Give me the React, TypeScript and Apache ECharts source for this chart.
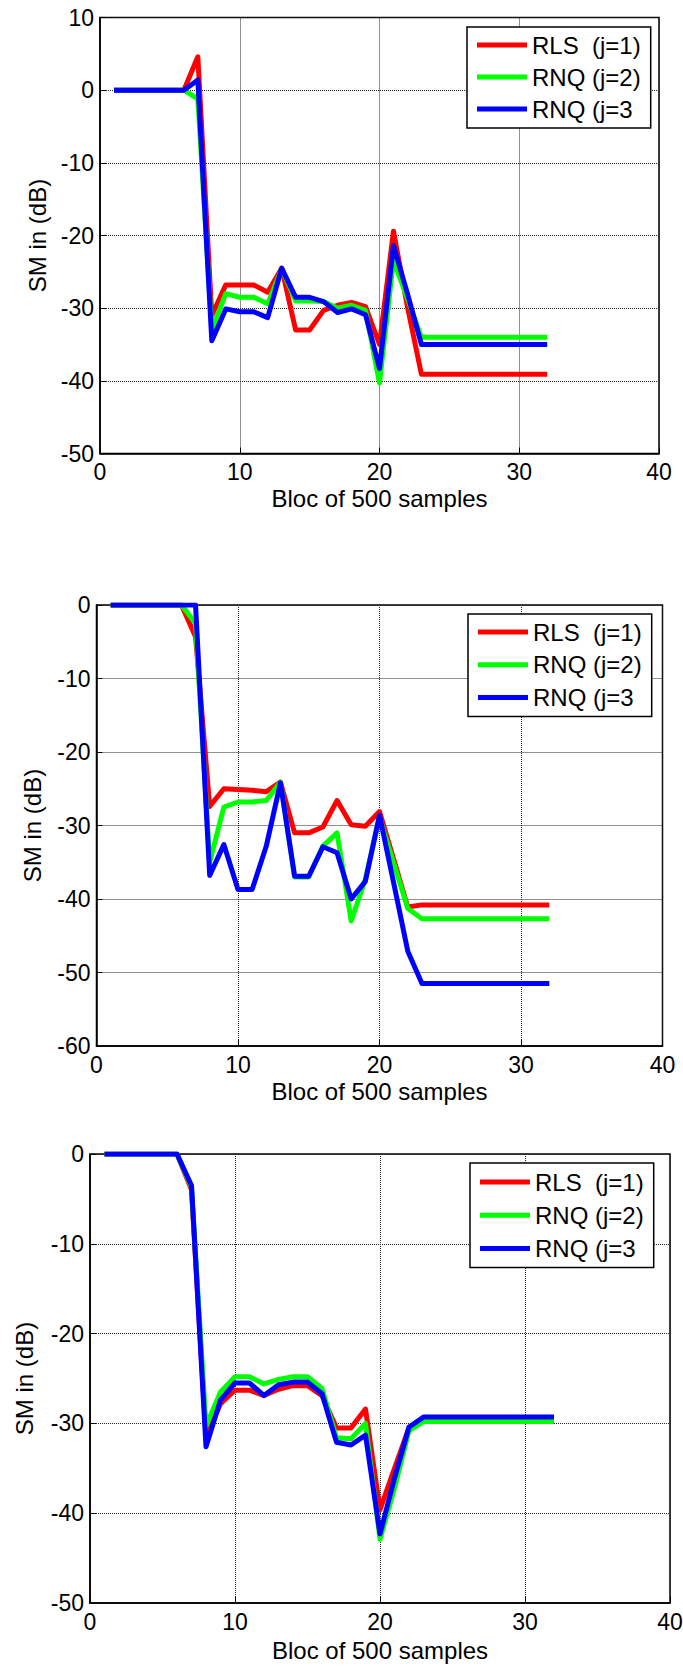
import React, { useEffect, useRef } from "react";
import * as echarts from "echarts";

const XS = [1, 2, 3, 4, 5, 6, 7, 8, 9, 10, 11, 12, 13, 14, 15, 16, 17, 18, 19, 20, 21, 22, 23, 24, 25, 26, 27, 28, 29, 30, 31, 32];
const SERIES_NAMES = ["RLS  (j=1)", "RNQ (j=2)", "RNQ (j=3"];
const X_TICKS = [0, 10, 20, 30, 40];

// Chart 1
const RED_1 = [0, 0, 0, 0, 0, 0, 4.6, -31, -26.8, -26.8, -26.8, -27.8, -24.5, -33, -33, -30.3, -29.6, -29.2, -29.8, -35, -19.4, -29.8, -39.1, -39.1, -39.1, -39.1, -39.1, -39.1, -39.1, -39.1, -39.1, -39.1];
const GREEN_1 = [0, 0, 0, 0, 0, 0, -1.2, -33, -28, -28.5, -28.5, -29.4, -24.6, -29, -29, -29.1, -30, -29.6, -30.3, -40.3, -23.4, -28.7, -34, -34, -34, -34, -34, -34, -34, -34, -34, -34];
const BLUE_1 = [0, 0, 0, 0, 0, 0, 1.4, -34.5, -30.1, -30.5, -30.5, -31.3, -24.5, -28.5, -28.5, -29.1, -30.6, -30.1, -30.9, -38.3, -21.4, -28, -35, -35, -35, -35, -35, -35, -35, -35, -35, -35];

// Chart 2
const RED_2 = [0, 0, 0, 0, 0, 0, -4.3, -27.4, -25, -25.1, -25.2, -25.4, -24.1, -31, -31, -30.2, -26.6, -29.9, -30.1, -28.1, -34.6, -41.1, -40.8, -40.8, -40.8, -40.8, -40.8, -40.8, -40.8, -40.8, -40.8, -40.8];
const GREEN_2 = [0, 0, 0, 0, 0, 0, -2.5, -35, -27.5, -26.8, -26.8, -26.6, -24.1, -37, -37, -32.8, -31, -43, -37.3, -28.9, -35.1, -41.3, -42.7, -42.7, -42.7, -42.7, -42.7, -42.7, -42.7, -42.7, -42.7, -42.7];
const BLUE_2 = [0, 0, 0, 0, 0, 0, 0, -36.8, -32.6, -38.7, -38.7, -32.8, -24.2, -36.9, -36.9, -32.9, -33.7, -40, -37.6, -28.6, -37.8, -47.1, -51.5, -51.5, -51.5, -51.5, -51.5, -51.5, -51.5, -51.5, -51.5, -51.5];

// Chart 3
const RED_3 = [0, 0, 0, 0, 0, 0, -4, -31.5, -27.8, -26.3, -26.3, -26.9, -26.2, -25.8, -25.8, -26.9, -30.5, -30.5, -28.4, -39.6, -35, -30.5, -29.6, -29.6, -29.6, -29.6, -29.6, -29.6, -29.6, -29.6, -29.6, -29.6];
const GREEN_3 = [0, 0, 0, 0, 0, 0, -3.7, -30.3, -26.5, -24.8, -24.8, -25.6, -25.1, -24.8, -24.8, -26.1, -31.6, -31.7, -30, -42.9, -37.2, -30.8, -29.8, -29.8, -29.8, -29.8, -29.8, -29.8, -29.8, -29.8, -29.8, -29.8];
const BLUE_3 = [0, 0, 0, 0, 0, 0, -3.5, -32.6, -27.4, -25.5, -25.5, -26.9, -25.7, -25.4, -25.4, -26.7, -32.1, -32.4, -31.3, -42.3, -36.1, -30.4, -29.3, -29.3, -29.3, -29.3, -29.3, -29.3, -29.3, -29.3, -29.3, -29.3];

const Y_RANGES = [
  [-50, 10],
  [-60, 0],
  [-50, 0],
];

const FONT = "'Liberation Sans', Arial, Helvetica, sans-serif";
const COLORS = ["#ff0000", "#00ff00", "#0000ff"];

const PANELS = [
  { grid: { left: 100, top: 17.5, width: 559, height: 436 }, legend: { left: 467, top: 27, gap: 6, padTop: 5 }, xGap: 33, yGap: 51, data: [RED_1, GREEN_1, BLUE_1] },
  { grid: { left: 96.5, top: 605, width: 566, height: 441 }, legend: { left: 468, top: 614, gap: 6.7, padTop: 5 }, xGap: 33, yGap: 52, data: [RED_2, GREEN_2, BLUE_2] },
  { grid: { left: 90, top: 1154, width: 580, height: 449 }, legend: { left: 470, top: 1163, gap: 7.3, padTop: 6 }, xGap: 35, yGap: 54, data: [RED_3, GREEN_3, BLUE_3] },
];

export default function App() {
  const ref = useRef<HTMLDivElement>(null);
  useEffect(() => {
    if (!ref.current) return;
    const chart = echarts.init(ref.current, null, { renderer: "svg" });
    const grids: any[] = [];
    const xAxes: any[] = [];
    const yAxes: any[] = [];
    const legends: any[] = [];
    const series: any[] = [];
    PANELS.forEach((p, i) => {
      grids.push({
        ...p.grid,
        show: true,
        borderColor: "#000",
        borderWidth: 1.5,
        backgroundColor: "#fff",
        outerBoundsMode: "none",
        containLabel: false,
      });
      xAxes.push({
        type: "value",
        gridIndex: i,
        min: X_TICKS[0],
        max: X_TICKS[X_TICKS.length - 1],
        interval: 10,
        axisLine: { show: true, onZero: false, lineStyle: { color: "#000", width: 1.5 } },
        axisTick: { show: true, inside: true, length: 6, lineStyle: { color: "#000", width: 1 } },
        axisLabel: { fontSize: 23, color: "#000", margin: 7, fontFamily: FONT },
        splitLine: { show: true, lineStyle: { color: "#222", type: "dotted", width: 1 } },
        name: "Bloc of 500 samples",
        nameLocation: "middle",
        nameGap: p.xGap,
        nameTextStyle: { fontSize: 24, color: "#000", fontFamily: FONT },
      });
      yAxes.push({
        type: "value",
        gridIndex: i,
        min: Y_RANGES[i][0],
        max: Y_RANGES[i][1],
        interval: 10,
        axisLine: { show: true, onZero: false, lineStyle: { color: "#000", width: 1.5 } },
        axisTick: { show: true, inside: true, length: 6, lineStyle: { color: "#000", width: 1 } },
        axisLabel: { fontSize: 23, color: "#000", margin: 6, fontFamily: FONT },
        splitLine: { show: true, lineStyle: { color: "#222", type: "dotted", width: 1 } },
        name: "SM in (dB)",
        nameLocation: "middle",
        nameGap: p.yGap,
        nameRotate: 90,
        nameTextStyle: { fontSize: 24, color: "#000", fontFamily: FONT },
      });
      legends.push({
        data: SERIES_NAMES,
        orient: "vertical",
        left: p.legend.left,
        top: p.legend.top,
        padding: [p.legend.padTop, 10, 6, 10],
        itemWidth: 50,
        itemHeight: 5,
        itemGap: p.legend.gap,
        icon: "rect",
        borderColor: "#000",
        borderWidth: 1.5,
        backgroundColor: "#fff",
        selectedMode: false,
        textStyle: { fontSize: 24, color: "#000", fontFamily: FONT, lineHeight: 26 },
      });
      p.data.forEach((arr, k) => {
        series.push({
          type: "line",
          name: SERIES_NAMES[k],
          xAxisIndex: i,
          yAxisIndex: i,
          data: XS.map((x, j) => [x, arr[j]]),
          showSymbol: false,
          symbol: "none",
          lineStyle: { color: COLORS[k], width: 5, join: "round" },
          itemStyle: { color: COLORS[k] },
          z: 2 + k,
        });
      });
    });
    chart.setOption({
      animation: false,
      backgroundColor: "#fff",
      grid: grids,
      xAxis: xAxes,
      yAxis: yAxes,
      legend: legends,
      series,
    });
    return () => chart.dispose();
  }, []);
  return (
    <div
      ref={ref}
      style={{ position: "absolute", left: 0, top: 0, width: 683, height: 1671, background: "#fff" }}
    />
  );
}
